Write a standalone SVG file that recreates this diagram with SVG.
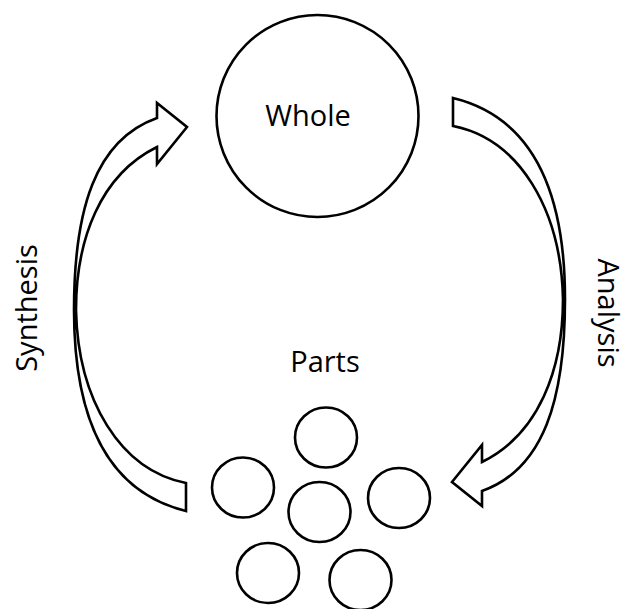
<svg xmlns="http://www.w3.org/2000/svg" width="628" height="609" viewBox="0 0 628 609">
  <defs>
    <style>
      .shape { fill: #ffffff; stroke: #000000; stroke-width: 2.6; stroke-linejoin: miter; }
      .label { font-family: "Open Sans", "Liberation Sans", sans-serif; font-size: 29px; fill: #000000; text-anchor: middle; }
    </style>
    <!-- curved block arrow: band sweeping up the left side, head pointing right -->
    <path id="curved-arrow" d="M157,118 C95,140 74,210 74,310 C74,420 108,492 186,511 L186,483 C120,470 78,400 76,310 C76,240 100,175 157,147 L157,164 L187,127 L157,103 Z"/>
  </defs>
  <rect width="628" height="609" fill="#ffffff"/>

  <g id="connectors">
    <g id="synthesis-arrow">
      <use href="#curved-arrow" class="shape"/>
    </g>
    <g id="analysis-arrow">
      <use href="#curved-arrow" class="shape" transform="rotate(180 319.5 304.5)"/>
    </g>
  </g>

  <g id="whole">
    <circle class="shape" cx="317.5" cy="116" r="101"/>
    <text class="label" x="308" y="126">Whole</text>
  </g>

  <g id="parts">
    <text class="label" x="325" y="372">Parts</text>
    <ellipse class="shape" cx="326" cy="437.5" rx="31" ry="30"/>
    <ellipse class="shape" cx="243" cy="487.5" rx="31" ry="30"/>
    <ellipse class="shape" cx="319.5" cy="512" rx="31" ry="30"/>
    <ellipse class="shape" cx="399" cy="498" rx="31" ry="30"/>
    <ellipse class="shape" cx="268" cy="573" rx="31" ry="30"/>
    <ellipse class="shape" cx="360.5" cy="580" rx="31" ry="30"/>
  </g>

  <g id="synthesis-label">
    <text class="label" transform="translate(37 308) rotate(-90)">Synthesis</text>
  </g>
  <g id="analysis-label">
    <text class="label" transform="translate(598 313) rotate(90)">Analysis</text>
  </g>
</svg>
